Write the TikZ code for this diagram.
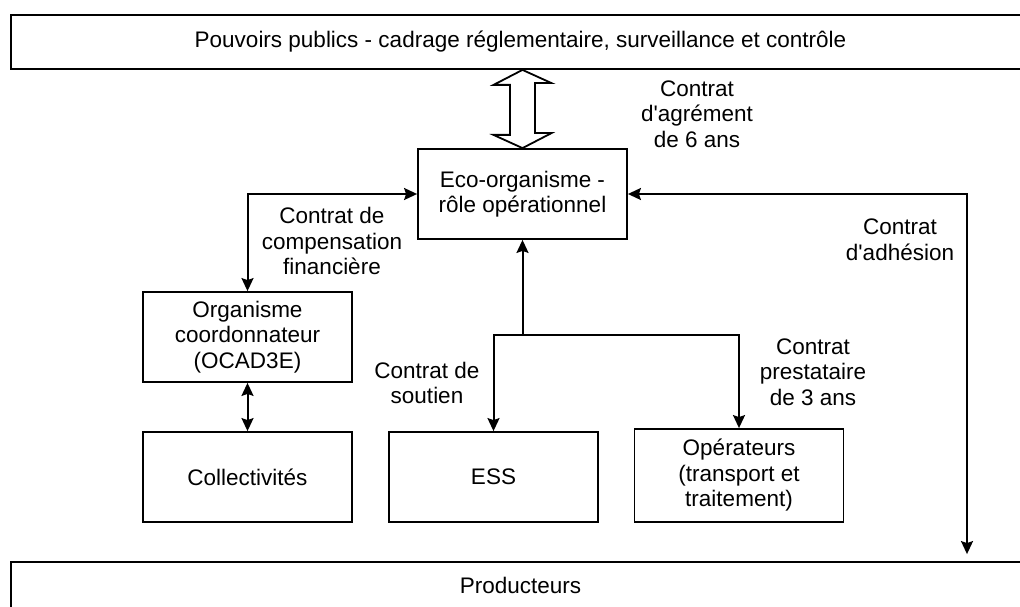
\documentclass[tikz,border=0pt]{standalone}
\usepackage{fontspec}
\setmainfont{Liberation Sans}
\usetikzlibrary{arrows.meta,calc,positioning}
\tikzset{
  >={Stealth[length=13pt,width=12pt,inset=2pt]},
  boite/.style={rectangle, draw=black, line width=1.8pt, fill=white, minimum width=209pt,
                minimum height=90pt, align=center, inner sep=2pt},
  bandeau/.style={boite, minimum width=1019pt, minimum height=54pt},
  lien/.style={draw, line width=2pt},
  etiquette/.style={align=center, inner sep=0pt}
}

\begin{document}
\begin{tikzpicture}[x=1pt, y=-1pt, font=\fontsize{22.5}{25.5}\selectfont]
      % Fix the frame of the page.
      \path[use as bounding box, clip] (0,0) rectangle (1020,607);

      % Draw the two bands.
      \node[bandeau] (pouvoirs) at (520.5,42)
      {Pouvoirs publics - cadrage réglementaire, surveillance et contrôle};
      \node[bandeau, minimum height=46pt] (producteurs) at (520.5,585) {Producteurs};

      % Draw the boxes.
      \node[boite] (eco) at (522.5,194) {Eco-organisme -\\rôle opérationnel};
      \node[boite] (ocad) at (247.5,337) {Organisme\\coordonnateur\\(OCAD3E)};
      \node[boite] (collectivites) at (247.5,477) {Collectivités};
      \node[boite] (ess) at (493.5,477) {ESS};
      \node[boite, minimum height=93pt] (operateurs) at (739,475.5)
      {Opérateurs\\(transport et\\traitement)};

      % Draw the hollow double arrow under the top band.
      \draw[line width=1.8pt, fill=white] (eco.north) -- ++(29,-15) -- ++(-16.5,0)
      -- ++(0,-50) -- ++(16.5,0) -- (pouvoirs.south -| eco.north) -- ++(-29,15)
      -- ++(16.5,0) -- ++(0,50) -- ++(-16.5,0) -- cycle;

      % Draw the contracts.
      \coordinate (adh) at (967,0);
      \coordinate (split) at ($(eco.south)+(0,95)$);
      \draw[lien, <->] (ocad.north) |- (eco.west);
      \draw[lien, <->] (ocad.south) -- (collectivites.north);
      \draw[lien, <->, shorten >=7pt] (eco.east) -| (producteurs.north -| adh);
      \draw[lien, ->] (split) -- (eco.south);
      \draw[lien, ->] (split) -| (ess.north);
      \draw[lien, ->] (split) -| (operateurs.north);

      % Label the contracts.
      \node[etiquette] (agrement) at (697,114) {Contrat\\d\textquotesingle agrément\\de 6 ans};
      \node[etiquette] (compensation) at (332,241) {Contrat de\\compensation\\financière};
      \node[etiquette] (adhesion) at (900,240) {Contrat\\d\textquotesingle adhésion};
      \node[etiquette] (soutien) at (427,383) {Contrat de\\soutien};
      \node[etiquette] (prestataire) at (813,372) {Contrat\\prestataire\\de 3 ans};

\end{tikzpicture}
\end{document}
